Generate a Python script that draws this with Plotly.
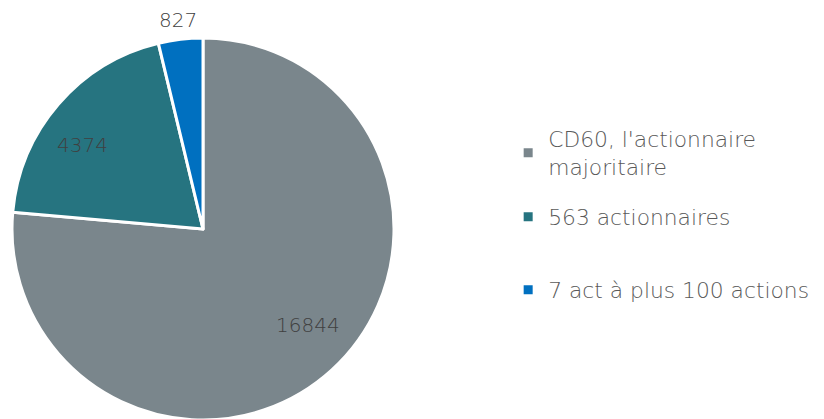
import math
import plotly.graph_objects as go

labels = ["CD60, l'actionnaire<br>majoritaire", "563 actionnaires", "7 act à plus 100 actions"]
values = [16844, 4374, 827]
colors = ["#7a868c", "#267480", "#0070c0"]
label_radius = [0.745, 0.77, 1.1]   # fraction of pie radius where the value label sits
label_shift_deg = [-5, -6, 0]        # small angular nudge of each value label

W, H = 824, 419
OFF = 8  # page body margin offset
FONT = "DejaVu Sans"

# pie geometry in pixels (figure coordinates)
x0, x1 = 12 - OFF, 394 - OFF
y_top, y_bot = 38 - OFF, 420 - OFF
cx_px = (x0 + x1) / 2
cy_px = (y_top + y_bot) / 2
r_px = (x1 - x0) / 2

fig = go.Figure()
fig.add_trace(go.Pie(
    labels=labels, values=values, sort=False, direction="clockwise", rotation=0,
    marker=dict(colors=colors, line=dict(color="white", width=3)),
    textinfo="none",
    domain=dict(x=[x0 / W, x1 / W], y=[1 - y_bot / H, 1 - y_top / H]),
    showlegend=False, hoverinfo="label+value",
))

total = sum(values)
acc = 0
for v, f, d in zip(values, label_radius, label_shift_deg):
    mid = (acc + v / 2) / total * 2 * math.pi + math.radians(d)
    acc += v
    px = cx_px + math.sin(mid) * r_px * f
    py = cy_px - math.cos(mid) * r_px * f
    fig.add_annotation(
        x=px / W, y=1 - py / H, xref="paper", yref="paper", showarrow=False,
        text=str(v), font=dict(family=FONT, size=20, color="#404040", weight=200),
        xanchor="center", yanchor="middle",
    )

legend_y = [0.654, 0.501, 0.327]
for i, (lab, col) in enumerate(zip(labels, colors)):
    name = "legend" if i == 0 else f"legend{i+1}"
    fig.add_trace(go.Scatter(
        x=[None], y=[None], mode="markers", name=lab,
        marker=dict(symbol="square", size=9, color=col),
        legend=name, showlegend=True,
    ))
    fig.update_layout(**{name: dict(
        x=0.607, y=legend_y[i], xanchor="left", yanchor="middle",
        font=dict(family=FONT, size=21.8, color="#595959", weight=200),
        bgcolor="rgba(0,0,0,0)", itemwidth=30,
    )})

fig.update_layout(
    width=W, height=H, margin=dict(l=0, r=0, t=0, b=0),
    paper_bgcolor="white", plot_bgcolor="white",
    xaxis=dict(visible=False), yaxis=dict(visible=False),
)
fig.write_html("out.html")
